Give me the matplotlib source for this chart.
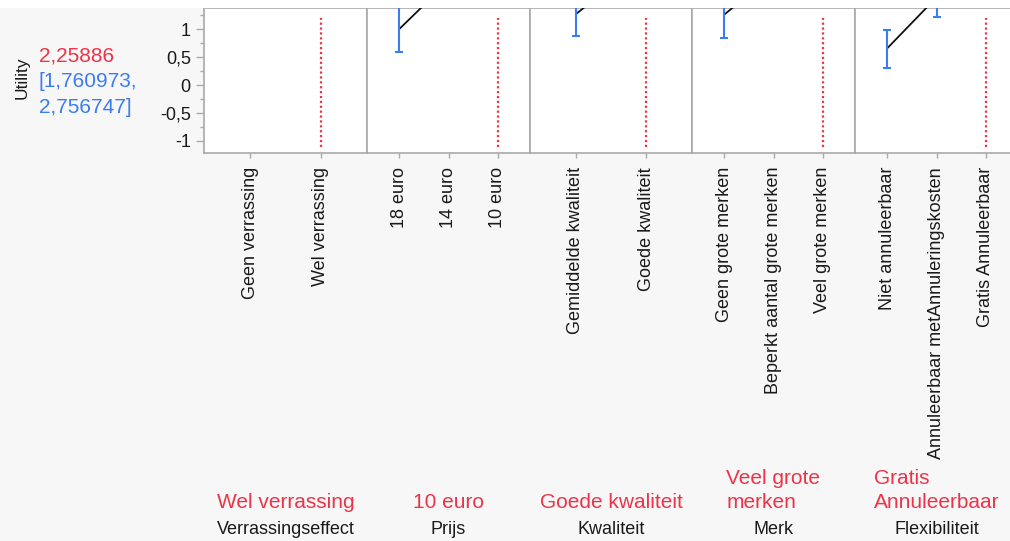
import textwrap
import matplotlib
matplotlib.use("Agg")
import matplotlib.pyplot as plt
from matplotlib.patches import Rectangle
from matplotlib.ticker import FixedLocator, MultipleLocator

plt.rcParams["font.family"] = ["Liberation Sans", "DejaVu Sans"]

# ---- profiler data -------------------------------------------------------
factors = ["Verrassingseffect", "Prijs", "Kwaliteit", "Merk", "Flexibiliteit"]

levels_verrassing = ["Geen verrassing", "Wel verrassing"]
levels_prijs = ["18 euro", "14 euro", "10 euro"]
levels_kwaliteit = ["Gemiddelde kwaliteit", "Goede kwaliteit"]
levels_merk = ["Geen grote merken", "Beperkt aantal grote merken", "Veel grote merken"]
levels_flex = ["Niet annuleerbaar", "Annuleerbaar metAnnuleringskosten", "Gratis Annuleerbaar"]

util_verrassing = [2.00, 2.25886]
util_prijs = [1.00, 1.86, 2.25886]
util_kwaliteit = [1.27, 2.25886]
util_merk = [1.26, 1.98, 2.25886]
util_flex = [0.655, 1.57, 2.25886]

low_verrassing = [1.58, 1.760973]
low_prijs = [0.59, 1.45, 1.760973]
low_kwaliteit = [0.87, 1.760973]
low_merk = [0.85, 1.57, 1.760973]
low_flex = [0.31, 1.22, 1.760973]

high_verrassing = [2.42, 2.756747]
high_prijs = [1.41, 2.27, 2.756747]
high_kwaliteit = [1.67, 2.756747]
high_merk = [1.67, 2.39, 2.756747]
high_flex = [0.99, 1.92, 2.756747]

current_index = [1, 2, 1, 2, 2]

prediction = 2.25886
prediction_low = 1.760973
prediction_high = 2.756747

y_ticks = [-1, -0.5, 0, 0.5, 1]

levels = [levels_verrassing, levels_prijs, levels_kwaliteit, levels_merk, levels_flex]
utility = [util_verrassing, util_prijs, util_kwaliteit, util_merk, util_flex]
ci_low = [low_verrassing, low_prijs, low_kwaliteit, low_merk, low_flex]
ci_high = [high_verrassing, high_prijs, high_kwaliteit, high_merk, high_flex]

# ---- layout --------------------------------------------------------------
W, H = 1010, 541
fig = plt.figure(figsize=(W / 100, H / 100), dpi=100, facecolor="#f7f7f7")

RED = "#ee3349"
BLUE = "#3b7cf0"
FRAME = "#a9a9a9"

fig.patches.append(Rectangle((0, 1 - 8 / H), 1, 8 / H, transform=fig.transFigure,
                             facecolor="white", edgecolor="none", zorder=0))

edges = [204, 367, 530, 692, 855, 1018]
top_px, bot_px = 8, 153.3


def fx(px):
    return px / W


def fy(py):
    return 1 - py / H


def comma(v):
    return str(v).replace(".", ",")


for i, name in enumerate(factors):
    x0, x1 = edges[i], edges[i + 1]
    ax = fig.add_axes([fx(x0), fy(bot_px), (x1 - x0) / W, (bot_px - top_px) / H])
    ax.set_facecolor("white")
    n = len(levels[i])
    xs = list(range(n))
    u = utility[i]
    lo = ci_low[i]
    hi = ci_high[i]

    ax.plot(xs, u, color="#111111", lw=1.3, zorder=3, solid_capstyle="butt")
    ax.errorbar(xs, u, yerr=[[a - b for a, b in zip(u, lo)], [b - a for a, b in zip(u, hi)]],
                fmt="none", ecolor=BLUE, elinewidth=1.5, capsize=3.2, capthick=1.5, zorder=4)
    ax.axvline(current_index[i], ymin=0.04, ymax=0.93, color=RED, lw=1.6,
               linestyle=(0, (1, 1.2)), zorder=2)

    ax.set_xlim(-0.65, n - 0.35)
    ax.set_ylim(-1.224, 1.38)

    for s in ax.spines.values():
        s.set_color(FRAME)
        s.set_linewidth(1.2)

    ax.set_xticks(xs)
    ax.set_xticklabels(levels[i], rotation=90, va="top", ha="center",
                       fontsize=13, color="#1a1a1a")
    ax.tick_params(axis="x", direction="out", length=3.8, width=1, color=FRAME, pad=6)

    if i == 0:
        ax.yaxis.set_major_locator(FixedLocator(y_ticks))
        ax.yaxis.set_minor_locator(MultipleLocator(0.25))
        ax.set_yticklabels([comma(v) for v in y_ticks], fontsize=13, color="#1a1a1a")
        ax.tick_params(axis="y", which="major", direction="out", length=5.5, width=1,
                       color=FRAME, pad=4)
        ax.tick_params(axis="y", which="minor", direction="out", length=3, width=1,
                       color=FRAME)
    else:
        ax.tick_params(axis="y", which="both", left=False, labelleft=False)

    cx = fx((x0 + x1) / 2)
    fig.text(cx, fy(508), textwrap.fill(levels[i][current_index[i]], 15),
             color=RED, fontsize=15, ha="center", va="baseline",
             multialignment="left", linespacing=1.35)
    fig.text(cx, fy(534), name, color="#1a1a1a", fontsize=13, ha="center", va="baseline")

# response label and current prediction
fig.text(fx(22), fy(78), "Utility", rotation=90, fontsize=12.5, color="#1a1a1a",
         ha="center", va="center")
fig.text(fx(39), fy(61), comma(prediction), color=RED, fontsize=15, ha="left", va="baseline")
fig.text(fx(39), fy(87), "[" + comma(prediction_low) + ",", color=BLUE, fontsize=15,
         ha="left", va="baseline")
fig.text(fx(39), fy(113), comma(prediction_high) + "]", color=BLUE, fontsize=15,
         ha="left", va="baseline")

fig.savefig("out.png", dpi=100, facecolor=fig.get_facecolor())
